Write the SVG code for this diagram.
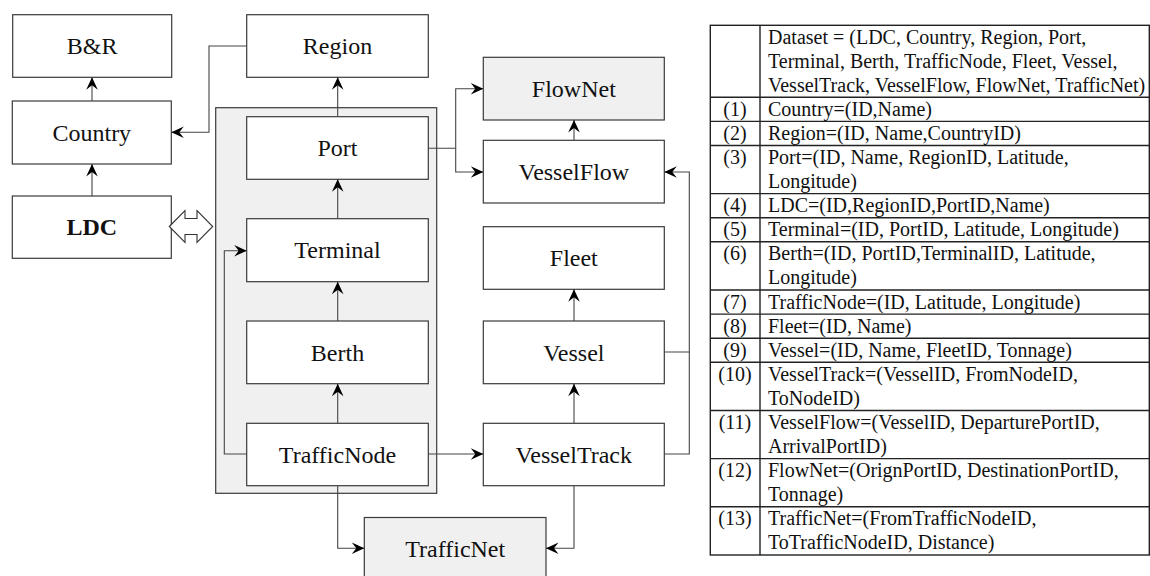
<svg xmlns="http://www.w3.org/2000/svg" width="1150" height="576" viewBox="0 0 1150 576">
  <style>
    text { font-family: "Liberation Serif", "Times New Roman", serif; fill: #111; }
    .box { fill: #ffffff; stroke: #3a3a3a; stroke-width: 1.2; }
    .shade { fill: #f0f0f0; stroke: #3a3a3a; stroke-width: 1.2; }
    .lbl { font-size: 24px; text-anchor: middle; }
    .bold { font-weight: bold; }
    .edge { fill: none; stroke: #444; stroke-width: 1.1; }
    .grid { fill: none; stroke: #222; stroke-width: 1.4; }
    .cell { font-size: 20px; }
    .num { text-anchor: middle; }
  </style>
  <defs>
    <marker id="arrow" viewBox="-14 -7 15 14" refX="0" refY="0" markerWidth="15" markerHeight="14" markerUnits="userSpaceOnUse" orient="auto">
      <path d="M0,0 L-12.5,-5.8 L-8,0 L-12.5,5.8 Z" fill="#000"/>
    </marker>
  </defs>

  <!-- Port container -->
  <g id="container">
    <rect class="shade" x="215.7" y="107.7" width="221" height="385.6"/>
  </g>

  <!-- Nodes -->
  <g id="node-br">
    <rect class="box" x="12.7" y="14.7" width="159" height="62.6"/>
    <text class="lbl" x="92.2" y="54">B&amp;R</text>
  </g>
  <g id="node-country">
    <rect class="box" x="12.3" y="101" width="159" height="63"/>
    <text class="lbl" x="91.8" y="140.5">Country</text>
  </g>
  <g id="node-ldc">
    <rect class="box" x="12.3" y="196" width="159" height="62.3"/>
    <text class="lbl bold" x="91.8" y="235">LDC</text>
  </g>
  <g id="node-region">
    <rect class="box" x="246.7" y="14.7" width="181.6" height="62.6"/>
    <text class="lbl" x="337.5" y="54">Region</text>
  </g>
  <g id="node-port">
    <rect class="box" x="246.7" y="116.7" width="181.6" height="62.6"/>
    <text class="lbl" x="337.5" y="156">Port</text>
  </g>
  <g id="node-terminal">
    <rect class="box" x="246.7" y="218.7" width="181.6" height="63"/>
    <text class="lbl" x="337.5" y="258">Terminal</text>
  </g>
  <g id="node-berth">
    <rect class="box" x="246.7" y="321" width="181.6" height="62.7"/>
    <text class="lbl" x="337.5" y="360.5">Berth</text>
  </g>
  <g id="node-trafficnode">
    <rect class="box" x="246.7" y="423.3" width="181.6" height="62.4"/>
    <text class="lbl" x="337.5" y="462.5">TrafficNode</text>
  </g>
  <g id="node-flownet">
    <rect class="shade" x="483.3" y="57.3" width="181" height="62.7"/>
    <text class="lbl" x="573.8" y="96.7">FlowNet</text>
  </g>
  <g id="node-vesselflow">
    <rect class="box" x="483.3" y="140.3" width="181" height="62.7"/>
    <text class="lbl" x="573.8" y="179.7">VesselFlow</text>
  </g>
  <g id="node-fleet">
    <rect class="box" x="483.3" y="226.7" width="181" height="62.6"/>
    <text class="lbl" x="573.8" y="266">Fleet</text>
  </g>
  <g id="node-vessel">
    <rect class="box" x="483.3" y="321" width="181" height="62.7"/>
    <text class="lbl" x="573.8" y="360.5">Vessel</text>
  </g>
  <g id="node-vesseltrack">
    <rect class="box" x="483.3" y="423.3" width="181" height="62.4"/>
    <text class="lbl" x="573.8" y="462.5">VesselTrack</text>
  </g>
  <g id="node-trafficnet">
    <rect class="shade" x="364.3" y="517.5" width="181.7" height="64"/>
    <text class="lbl" x="455.2" y="556.5">TrafficNet</text>
  </g>

  <!-- LDC / Port-group link: hollow double arrow -->
  <g id="link-ldc">
    <path d="M169.3,226.5 L185,210.7 L185,218.5 L197,218.5 L197,210.7 L212.7,226.5 L197,242.3 L197,234.5 L185,234.5 L185,242.3 Z" fill="#fff" stroke="#333" stroke-width="1.1"/>
  </g>

  <!-- Connectors -->
  <g id="connectors">
    <path class="edge" marker-end="url(#arrow)" d="M92,101 V77.3"/>
    <path class="edge" marker-end="url(#arrow)" d="M92,196 V164"/>
    <path class="edge" marker-end="url(#arrow)" d="M246.7,46 H209 V132.3 H171.3"/>
    <path class="edge" marker-end="url(#arrow)" d="M337.7,116.7 V77.3"/>
    <path class="edge" marker-end="url(#arrow)" d="M337.7,218.7 V179.3"/>
    <path class="edge" marker-end="url(#arrow)" d="M337.7,321 V281.7"/>
    <path class="edge" marker-end="url(#arrow)" d="M337.7,423.3 V383.7"/>
    <path class="edge" marker-end="url(#arrow)" d="M246.7,454 H224.3 V250.7 H246.7"/>
    <path class="edge" marker-end="url(#arrow)" d="M428.3,454 H483.3"/>
    <path class="edge" marker-end="url(#arrow)" d="M337.7,485.7 V548.3 H364.3"/>
    <path class="edge" marker-end="url(#arrow)" d="M428.3,148.3 H455.7 V88.7 H483.3"/>
    <path class="edge" marker-end="url(#arrow)" d="M455.7,148.3 V172 H483.3"/>
    <path class="edge" marker-end="url(#arrow)" d="M574,140.3 V120"/>
    <path class="edge" marker-end="url(#arrow)" d="M574,321 V289.3"/>
    <path class="edge" marker-end="url(#arrow)" d="M574,423.3 V383.7"/>
    <path class="edge" marker-end="url(#arrow)" d="M574,485.7 V548.3 H546"/>
    <path class="edge" marker-end="url(#arrow)" d="M664.3,352 H689.3 V172 H664.3"/>
    <path class="edge" d="M664.3,454 H689.3 V352"/>
  </g>

  <!-- Schema table -->
  <g id="schema-table">
    <rect class="grid" x="710.3" y="25.3" width="439" height="529.7"/>
    <path class="grid" d="M760,25.3 V555"/>
    <path class="grid" d="M710.3,97.3 H1149.3 M710.3,121.4 H1149.3 M710.3,145.5 H1149.3 M710.3,193.6 H1149.3 M710.3,217.7 H1149.3 M710.3,241.8 H1149.3 M710.3,290 H1149.3 M710.3,314.1 H1149.3 M710.3,338.2 H1149.3 M710.3,362.3 H1149.3 M710.3,410.5 H1149.3 M710.3,458.6 H1149.3 M710.3,506.8 H1149.3"/>

    <text class="cell" x="768" y="43.5">Dataset = (LDC, Country, Region, Port,</text>
    <text class="cell" x="768" y="67.6">Terminal, Berth, TrafficNode, Fleet, Vessel,</text>
    <text class="cell" x="768" y="91.7">VesselTrack, VesselFlow, FlowNet, TrafficNet)</text>

    <text class="cell num" x="735" y="115.8">(1)</text>
    <text class="cell" x="768" y="115.8">Country=(ID,Name)</text>

    <text class="cell num" x="735" y="139.9">(2)</text>
    <text class="cell" x="768" y="139.9">Region=(ID, Name,CountryID)</text>

    <text class="cell num" x="735" y="164">(3)</text>
    <text class="cell" x="768" y="164">Port=(ID, Name, RegionID, Latitude,</text>
    <text class="cell" x="768" y="188.1">Longitude)</text>

    <text class="cell num" x="735" y="212.1">(4)</text>
    <text class="cell" x="768" y="212.1">LDC=(ID,RegionID,PortID,Name)</text>

    <text class="cell num" x="735" y="236.2">(5)</text>
    <text class="cell" x="768" y="236.2">Terminal=(ID, PortID, Latitude, Longitude)</text>

    <text class="cell num" x="735" y="260.3">(6)</text>
    <text class="cell" x="768" y="260.3">Berth=(ID, PortID,TerminalID, Latitude,</text>
    <text class="cell" x="768" y="284.4">Longitude)</text>

    <text class="cell num" x="735" y="308.5">(7)</text>
    <text class="cell" x="768" y="308.5">TrafficNode=(ID, Latitude, Longitude)</text>

    <text class="cell num" x="735" y="332.6">(8)</text>
    <text class="cell" x="768" y="332.6">Fleet=(ID, Name)</text>

    <text class="cell num" x="735" y="356.7">(9)</text>
    <text class="cell" x="768" y="356.7">Vessel=(ID, Name, FleetID, Tonnage)</text>

    <text class="cell num" x="735" y="380.8">(10)</text>
    <text class="cell" x="768" y="380.8">VesselTrack=(VesselID, FromNodeID,</text>
    <text class="cell" x="768" y="404.9">ToNodeID)</text>

    <text class="cell num" x="735" y="429">(11)</text>
    <text class="cell" x="768" y="429">VesselFlow=(VesselID, DeparturePortID,</text>
    <text class="cell" x="768" y="453.1">ArrivalPortID)</text>

    <text class="cell num" x="735" y="477.1">(12)</text>
    <text class="cell" x="768" y="477.1">FlowNet=(OrignPortID, DestinationPortID,</text>
    <text class="cell" x="768" y="501.2">Tonnage)</text>

    <text class="cell num" x="735" y="525.3">(13)</text>
    <text class="cell" x="768" y="525.3">TrafficNet=(FromTrafficNodeID,</text>
    <text class="cell" x="768" y="549.4">ToTrafficNodeID, Distance)</text>
  </g>
</svg>
